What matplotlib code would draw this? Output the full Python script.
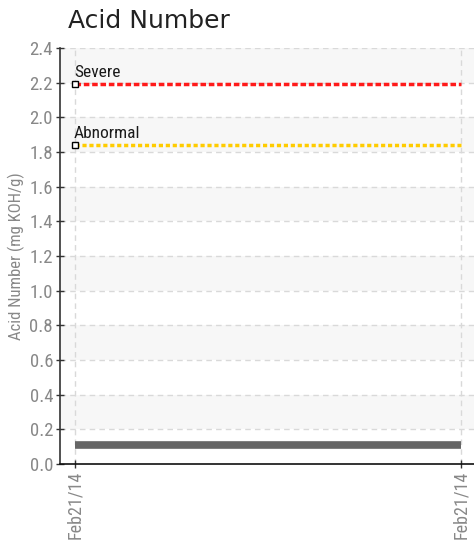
import numpy as np
import matplotlib
matplotlib.use("Agg")
import matplotlib.pyplot as plt

## Data
dates = ["Feb21/14", "Feb21/14"]
acid_number = [0.11, 0.11]
severe_limit = 2.19
abnormal_limit = 1.84
y_ticks = np.arange(0, 2.41, 0.2)

narrow = ["Roboto Condensed", "Archivo Narrow", "Barlow Semi Condensed", "Liberation Sans"]

fig = plt.figure(figsize=(4.74, 5.43), dpi=100)
ax = fig.add_axes([60/474, 1 - 464/543, 1 - 60/474, (464 - 48)/543])

x = np.arange(len(dates))

# alternating bands
for i in range(1, len(y_ticks) - 1, 2):
    ax.axhspan(y_ticks[i], y_ticks[i + 1], color="#f7f7f7", zorder=0, lw=0)

for yv in y_ticks[1:]:
    ax.axhline(yv, color="#d9d9d9", lw=1, ls=(0, (4, 3)), zorder=1)
for xv in x:
    ax.axvline(xv, color="#d9d9d9", lw=1, ls=(0, (4, 3)), zorder=1)

# limit lines
ax.plot(x, [severe_limit] * len(x), color="#ff1a1a", lw=2.5, ls=(0, (1.6, 0.8)), zorder=3)
ax.plot(x, [abnormal_limit] * len(x), color="#ffcc00", lw=2.5, ls=(0, (1.2, 0.8)), zorder=3)
ax.plot([x[0]], [severe_limit], marker="s", ms=5, mfc="white", mec="black", mew=1, zorder=4)
ax.plot([x[0]], [abnormal_limit], marker="s", ms=5, mfc="white", mec="black", mew=1, zorder=4)
ax.text(x[0] - 0.003, severe_limit + 0.025, "Severe", fontsize=12.5, family=narrow, color="#1a1a1a", va="bottom", ha="left")
ax.text(x[0] - 0.003, abnormal_limit + 0.025, "Abnormal", fontsize=12.5, family=narrow, color="#1a1a1a", va="bottom", ha="left")

# data series
ax.plot(x, acid_number, color="#666666", lw=5.5, solid_capstyle="butt", zorder=3)

ax.set_xlim(-15/386, 13/386 + 1)
ax.set_ylim(0, 2.4)
ax.set_yticks(y_ticks)
ax.set_yticklabels([f"{v:.1f}" for v in y_ticks], family=narrow, fontsize=13.5, color="#888888")
ax.set_xticks(x)
ax.set_xticklabels(dates, rotation=90, family=narrow, fontsize=13, color="#888888")
ax.tick_params(axis="both", direction="inout", length=6, width=1, color="#333333", pad=2)

for s in ["top", "right"]:
    ax.spines[s].set_visible(False)
ax.spines["left"].set_color("#333333")
ax.spines["bottom"].set_color("#111111")
ax.spines["left"].set_linewidth(1.2)
ax.spines["bottom"].set_linewidth(1.2)

ax.set_ylabel("Acid Number (mg KOH/g)", family=narrow, fontsize=12, color="#888888", labelpad=3)
fig.text(68/474, 1 - 21/543, "Acid Number", fontsize=18, color="#222222", va="center", ha="left")

fig.savefig("out.png", dpi=100)
